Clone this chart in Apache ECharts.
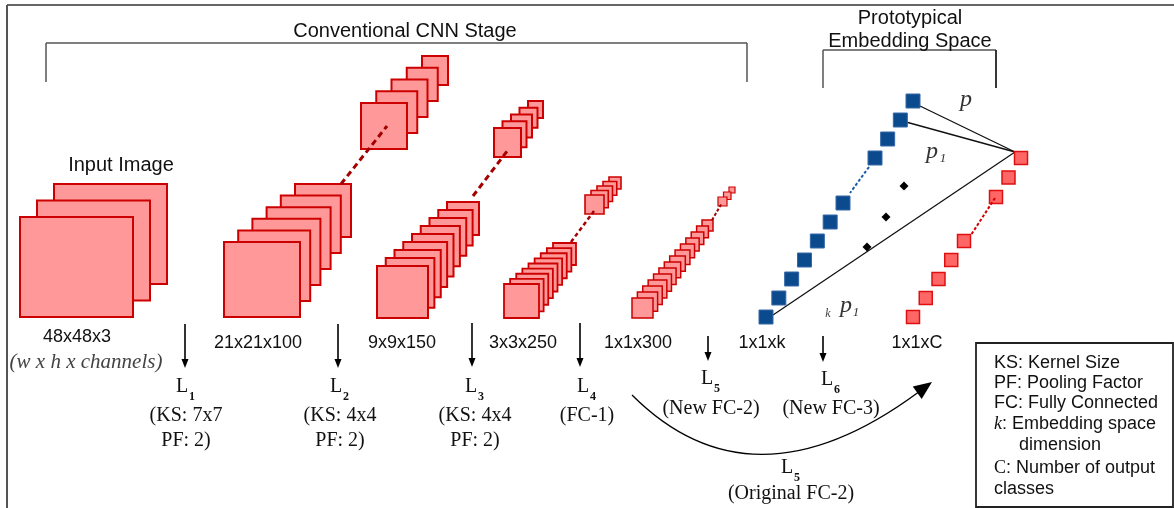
<!DOCTYPE html>
<html><head><meta charset="utf-8">
<script src="https://cdn.jsdelivr.net/npm/echarts@6/dist/echarts.min.js"></script>
<style>html,body{margin:0;padding:0;background:#fff}#c{width:1174px;height:508px}</style>
</head><body><div id="c"></div>
<script>
// ---------- content (text and counts) ----------
const stageTitles = ['Conventional CNN Stage', 'Prototypical', 'Embedding Space'];
const inputTitle = 'Input Image';
const tensorShapes = ['48x48x3', '21x21x100', '9x9x150', '3x3x250', '1x1x300', '1x1xk', '1x1xC'];
const shapeNote = '(w x h x channels)';
const layerIndices = ['1', '2', '3', '4', '5', '6', '5'];
const layerDetails = [
  ['(KS: 7x7', 'PF: 2)'],
  ['(KS: 4x4', 'PF: 2)'],
  ['(KS: 4x4', 'PF: 2)'],
  ['(FC-1)'],
  ['(New FC-2)'],
  ['(New FC-3)'],
  ['(Original FC-2)']
];
// feature maps drawn per stack: input, L1 near, L1 far, L2 near, L2 far, L3 near, L3 far, L4 near, L4 far
const featureMapCounts = [3, 6, 5, 9, 5, 9, 5, 14, 3];
const embeddingUnits = [4, 7];   // drawn units in 1x1xk (upper run, lower run)
const classUnits = [3, 5];       // drawn units in 1x1xC (upper run, lower run)
const distanceLabels = ['p', 'p', 'p'];
const distanceSubs = ['', '1', '1'];
const legendKeys = ['KS', 'PF', 'FC', 'k', '', 'C', ''];
const legendTexts = [': Kernel Size', ': Pooling Factor', ': Fully Connected', ': Embedding space', 'dimension', ': Number of output', 'classes'];

// ---------- layout (positions in page units) ----------
const L = {
  stacks: [ // [frontX, frontY, frontW, frontH, backX, backY, backW, backH, strokeWidth]
    [20, 217, 113, 100, 54, 184, 113, 100, 2],
    [224, 242, 76, 75, 295, 184, 56, 53, 2],
    [361, 103, 46, 46, 422, 56, 26, 29, 2],
    [377, 266, 51, 52, 447, 202, 32, 33, 2],
    [494, 128, 27, 29, 528, 101, 15, 17, 2],
    [504, 284, 35, 34, 553, 243, 23, 22, 1.8],
    [585, 195, 19, 19, 609, 177, 12, 12, 1.6],
    [632, 298, 21, 20, 702, 220, 11, 11, 1.5],
    [718, 197, 9, 9, 729, 187, 6, 6, 1.2]
  ],
  dashes: [ // [x1,y1,x2,y2,width,color,dash]
    [341, 184, 387, 126, 3, '#a30000', [6, 4]],
    [473, 196, 508, 150, 3, '#a30000', [6, 4]],
    [571, 242, 594, 211, 2.5, '#a30000', [4, 3]],
    [712, 220, 722, 203, 2, '#a30000', [3, 2]],
    [869, 167, 850, 193, 2, '#1a5aa6', [3, 2]],
    [995, 198, 971, 235, 2, '#d40000', [3, 2]]
  ],
  blueRuns: [[913, 101, 875, 158], [843, 203, 766, 317]],
  redRuns: [[1021, 158, 996, 197], [964, 241, 913, 317]],
  shapePos: [[77, 337], [258, 343], [402, 343], [523, 343], [638, 343], [762, 343], [917, 343]],
  downArrows: [[185, 324, 368], [338, 324, 368], [472, 323, 367], [580, 323, 367], [708, 336, 361], [823, 336, 362]],
  layerPos: [[185, 387, 416, 441], [339, 387, 416, 441], [474, 387, 416, 441], [586, 387, 416, 441],
             [710, 379, 409], [830, 380, 409], [790, 468, 494]],
  distPos: [[966, 100], [932, 152], [846, 306]]
};

const SANS = '"Liberation Sans", Arial, sans-serif';
const SERIF = '"Liberation Serif", "Times New Roman", serif';

function renderAll(params, api) {
  const P = (x, y) => api.coord([x, y]);
  const out = [];
  const line = (x1, y1, x2, y2, stroke, lw, dash) => {
    const a = P(x1, y1), b = P(x2, y2);
    out.push({ type: 'line', shape: { x1: a[0], y1: a[1], x2: b[0], y2: b[1] },
      style: { stroke, lineWidth: lw, lineDash: dash || null, fill: null } });
  };
  const rect = (x, y, w, h, fill, stroke, lw) => {
    const a = P(x, y), b = P(x + w, y + h);
    out.push({ type: 'rect', shape: { x: a[0], y: a[1], width: b[0] - a[0], height: b[1] - a[1] },
      style: { fill, stroke, lineWidth: lw } });
  };
  const poly = (pts, fill) => {
    out.push({ type: 'polygon', shape: { points: pts.map(p => P(p[0], p[1])) }, style: { fill, stroke: null } });
  };
  const text = (s, x, y, font, fill, align, extra) => {
    const a = P(x, y);
    out.push({ type: 'text', x: a[0], y: a[1],
      style: Object.assign({ text: s, font, fill, align: align || 'center', verticalAlign: 'middle',
        textAlign: align || 'center', textVerticalAlign: 'middle' }, extra || {}) });
  };

  // frame
  line(7, 5, 1180, 5, '#666', 2);
  line(7, 5, 7, 520, '#555', 2);

  // brackets
  line(46, 43, 747, 43, '#555', 1.5);
  line(46, 43, 46, 82, '#555', 1.5);
  line(747, 43, 747, 82, '#555', 1.5);
  line(823, 50, 996, 50, '#555', 1.5);
  line(823, 50, 823, 88, '#555', 1.5);
  line(996, 50, 996, 88, '#222', 1.8);

  text(stageTitles[0], 405, 31, '20px ' + SANS, '#111');
  text(stageTitles[1], 910, 18, '20px ' + SANS, '#111');
  text(stageTitles[2], 910, 41, '20px ' + SANS, '#111');
  text(inputTitle, 121, 165, '20px ' + SANS, '#111');

  // feature map stacks
  L.stacks.forEach((s, k) => {
    const n = featureMapCounts[k];
    for (let i = n - 1; i >= 0; i--) {
      const t = n > 1 ? i / (n - 1) : 0;
      const x = s[0] + t * (s[4] - s[0]), y = s[1] + t * (s[5] - s[1]);
      const w = s[2] + t * (s[6] - s[2]), h = s[3] + t * (s[7] - s[3]);
      rect(x, y, w, h, '#ff9999', '#cc0000', s[8]);
    }
  });

  // embedding links
  line(920, 106, 1015, 152, '#111', 1.3);
  line(906, 122, 1015, 152, '#111', 1.3);
  line(773, 315, 1015, 152, '#111', 1.3);

  // embedding units (blue) and class units (red)
  L.blueRuns.forEach((r, k) => {
    const n = embeddingUnits[k];
    for (let i = 0; i < n; i++) {
      const t = n > 1 ? i / (n - 1) : 0;
      const cx = r[0] + t * (r[2] - r[0]), cy = r[1] + t * (r[3] - r[1]);
      rect(cx - 7, cy - 7, 14, 14, '#0c4a8e', '#3668a8', 1);
    }
  });
  L.redRuns.forEach((r, k) => {
    const n = classUnits[k];
    for (let i = 0; i < n; i++) {
      const t = n > 1 ? i / (n - 1) : 0;
      const cx = r[0] + t * (r[2] - r[0]), cy = r[1] + t * (r[3] - r[1]);
      rect(cx - 6.5, cy - 6.5, 13, 13, '#ff6666', '#dd1111', 1.5);
    }
  });

  // dashed connectors
  L.dashes.forEach(d => line(d[0], d[1], d[2], d[3], d[5], d[4], d[6]));

  // diamonds
  [[904, 186], [886, 217], [867, 247]].forEach(c => {
    poly([[c[0], c[1] - 4.5], [c[0] + 4.5, c[1]], [c[0], c[1] + 4.5], [c[0] - 4.5, c[1]]], '#000');
  });

  // distance labels
  text(distanceLabels[0], L.distPos[0][0], L.distPos[0][1], 'italic 24px ' + SERIF, '#333');
  text(distanceLabels[1], L.distPos[1][0], L.distPos[1][1], 'italic 24px ' + SERIF, '#333');
  text(distanceSubs[1], L.distPos[1][0] + 11, L.distPos[1][1] + 7, 'italic 13px ' + SERIF, '#333');
  text('k', L.distPos[2][0] - 18, L.distPos[2][1] + 8, 'italic 12px ' + SERIF, '#444');
  text(distanceLabels[2], L.distPos[2][0], L.distPos[2][1], 'italic 24px ' + SERIF, '#333');
  text(distanceSubs[2], L.distPos[2][0] + 10, L.distPos[2][1] + 7, 'italic 13px ' + SERIF, '#333');

  // tensor shapes
  tensorShapes.forEach((s, i) => text(s, L.shapePos[i][0], L.shapePos[i][1], '18px ' + SANS, '#111'));
  text(shapeNote, 86, 362, 'italic 21px ' + SERIF, '#444');

  // down arrows
  L.downArrows.forEach(a => {
    line(a[0], a[1], a[0], a[2] - 7, '#000', 1.6);
    poly([[a[0] - 3.5, a[2] - 9], [a[0] + 3.5, a[2] - 9], [a[0], a[2]]], '#000');
  });

  // layer labels
  layerIndices.forEach((idx, i) => {
    const p = L.layerPos[i];
    text('L', p[0] - 3, p[1], '20px ' + SERIF, '#111');
    text(idx, p[0] + 7, p[1] + 10, 'bold 12px ' + SERIF, '#111');
    layerDetails[i].forEach((s, j) => text(s, p[0] + 1, p[2 + j], '20px ' + SERIF, '#111'));
  });

  // curved arrow (original FC-2)
  {
    const a = P(632, 395), c = P(752, 515), b = P(918, 392.5);
    out.push({ type: 'bezierCurve', shape: { x1: a[0], y1: a[1], x2: b[0], y2: b[1], cpx1: c[0], cpy1: c[1] },
      style: { stroke: '#000', lineWidth: 1.3, fill: null } });
    poly([[932, 382], [921.7, 399], [912.8, 386.5]], '#000');
  }

  // key box
  rect(976, 343, 197, 164, '#fff', '#222', 1.8);
  const keyY = [363, 383, 403, 424, 445, 468, 489];
  legendTexts.forEach((s, i) => {
    const key = legendKeys[i];
    const y = keyY[i];
    if (key === 'k') {
      out.push({ type: 'text', x: P(994, y)[0], y: P(994, y)[1], style: {
        text: '{a|k}{b|' + s + '}', align: 'left', verticalAlign: 'middle',
        rich: { a: { font: 'italic 18px ' + SERIF, fill: '#111' }, b: { font: '18px ' + SANS, fill: '#111' } } } });
    } else if (key === 'C') {
      out.push({ type: 'text', x: P(994, y)[0], y: P(994, y)[1], style: {
        text: '{a|C}{b|' + s + '}', align: 'left', verticalAlign: 'middle',
        rich: { a: { font: '18px ' + SERIF, fill: '#111' }, b: { font: '18px ' + SANS, fill: '#111' } } } });
    } else if (key === '') {
      text(s, s === 'dimension' ? 1019 : 994, y, '18px ' + SANS, '#111', 'left');
    } else {
      text(key + s, 994, y, '18px ' + SANS, '#111', 'left');
    }
  });

  return { type: 'group', children: out };
}

const chart = echarts.init(document.getElementById('c'), null, { renderer: 'canvas' });
chart.setOption({
  animation: false,
  backgroundColor: '#fff',
  grid: { left: 0, right: 0, top: 0, bottom: 0 },
  xAxis: { type: 'value', min: 0, max: 1174, show: false },
  yAxis: { type: 'value', min: 0, max: 508, inverse: true, show: false },
  series: [{
    type: 'custom',
    clip: false,
    silent: true,
    data: [[0, 0]],
    renderItem: renderAll
  }]
});
</script></body></html>
